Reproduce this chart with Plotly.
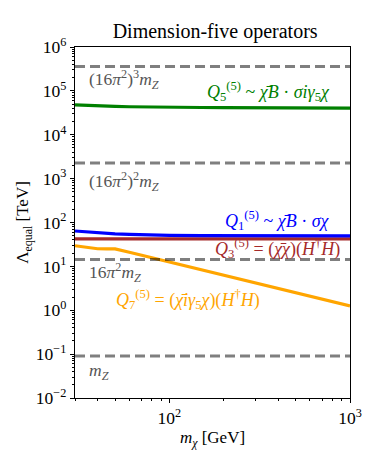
import numpy as np
import plotly.graph_objects as go

# dark matter mass [GeV]
m_chi = [30, 35, 40, 45, 50, 60, 70, 85, 100, 150, 200, 300, 500, 700, 1000]

# Lambda_equal [TeV] per operator
lam_Q5 = [48000, 46500, 45500, 44800, 44200, 43500, 43000, 42600, 42300, 41800, 41500, 41200, 40900, 40700, 40500]
lam_Q1 = [64, 61, 58, 56.5, 55, 53.5, 52.5, 51.5, 50.8, 50.2, 49.9, 49.7, 49.6, 49.5, 49.5]
lam_Q3 = [42.3] * len(m_chi)
lam_Q7 = [29.5, 27, 25.2, 25.0, 25.0, 21.0, 18.0, 14.8, 12.6, 8.4, 6.3, 4.2, 2.5, 1.8, 1.26]

# reference scales
mZ = 0.0912  # TeV
loop = 16 * np.pi ** 2
ref_scales = [mZ, loop * mZ, loop ** 2 * mZ, loop ** 3 * mZ]
ref_labels = ["<i>m<sub>Z</sub></i>", "16<i>π</i><sup>2</sup><i>m<sub>Z</sub></i>",
              "(16<i>π</i><sup>2</sup>)<sup>2</sup><i>m<sub>Z</sub></i>",
              "(16<i>π</i><sup>2</sup>)<sup>3</sup><i>m<sub>Z</sub></i>"]
ref_label_y = [-1.40, 0.85, 2.93, 5.25]

# tick labels
y_exps = list(range(-2, 7))
y_ticktext = ["10<sup>" + str(e).replace("-", "−") + "</sup>" for e in y_exps]
x_exps = [2, 3]
x_ticktext = ["10<sup>2</sup>", "10<sup>3</sup>"]

FONT = "Liberation Serif"

fig = go.Figure()

series = [
    (lam_Q3, "#a52a2a"),
    (lam_Q1, "#0000ff"),
    (lam_Q5, "#008000"),
    (lam_Q7, "#ffa500"),
]
for vals, col in series:
    fig.add_trace(go.Scatter(x=m_chi, y=vals, mode="lines",
                             line=dict(color=col, width=3.2), showlegend=False))

for s in ref_scales:
    fig.add_trace(go.Scatter(x=[30, 1000], y=[s, s], mode="lines",
                             line=dict(color="rgba(0,0,0,0.5)", width=3, dash="10px,5px"),
                             showlegend=False))

annotations = []
for lab, ly in zip(ref_labels, ref_label_y):
    annotations.append(dict(x=1.542, y=ly, xref="x", yref="y", text=lab, showarrow=False,
                            xanchor="left", yanchor="middle",
                            font=dict(family=FONT, size=17.5, color="#555555")))

op_labels = [
    ("<i>Q</i><sub>5</sub><sup>(5)</sup> ~ <i>χ̄B</i> · <i>σiγ</i><sub>5</sub><i>χ</i>", 2.901, 4.975, "right", "#008000"),
    ("<i>Q</i><sub>1</sub><sup>(5)</sup> ~ <i>χ̄B</i> · <i>σχ</i>", 2.899, 2.04, "right", "#0000ff"),
    ("<i>Q</i><sub>3</sub><sup>(5)</sup> = (<i>χ̄χ</i>)(<i>H</i><sup>†</sup><i>H</i>)", 2.954, 1.40, "right", "#a52a2a"),
    ("<i>Q</i><sub>7</sub><sup>(5)</sup> = (<i>χ̄iγ</i><sub>5</sub><i>χ</i>)(<i>H</i><sup>†</sup><i>H</i>)", 1.694, 0.237, "left", "#ffa500"),
]
for txt, lx, ly, anc, col in op_labels:
    annotations.append(dict(x=lx, y=ly, xref="x", yref="y", text=txt, showarrow=False,
                            xanchor=anc, yanchor="middle",
                            font=dict(family=FONT, size=18, color=col)))

# the page body adds an 8px margin, so the figure is sized to fit inside it
fig.update_layout(
    width=366, height=460,
    margin=dict(l=67, r=19, t=39, b=70),
    plot_bgcolor="white", paper_bgcolor="white",
    font=dict(family=FONT, size=14, color="black"),
    title=dict(text="Dimension-five operators", x=0.566, xanchor="center", y=0.95, yanchor="middle",
               font=dict(family=FONT, size=20, color="black")),
    annotations=annotations,
)
fig.update_xaxes(type="log", range=[np.log10(30), 3],
                 tickvals=[10 ** e for e in x_exps], ticktext=x_ticktext,
                 ticklabeloverflow="allow",
                 showline=True, linecolor="black", linewidth=1.2, mirror=True,
                 ticks="outside", ticklen=4, tickcolor="black", showgrid=False, zeroline=False,
                 minor=dict(ticks="outside", ticklen=2, tickcolor="black", showgrid=False, dtick="D1"),
                 tickfont=dict(family=FONT, size=17.5),
                 title=dict(text="<i>m<sub>χ</sub></i> [GeV]", font=dict(family=FONT, size=17), standoff=2))
fig.update_yaxes(type="log", range=[-2, 6],
                 tickvals=[10.0 ** e for e in y_exps], ticktext=y_ticktext,
                 showline=True, linecolor="black", linewidth=1.2, mirror=True,
                 ticks="outside", ticklen=4, tickcolor="black", showgrid=False, zeroline=False,
                 minor=dict(ticks="outside", ticklen=2, tickcolor="black", showgrid=False, dtick="D1"),
                 tickfont=dict(family=FONT, size=17.5),
                 title=dict(text="Λ<sub>equal</sub> [TeV]", font=dict(family=FONT, size=17), standoff=2))

fig.write_html("out.html")
